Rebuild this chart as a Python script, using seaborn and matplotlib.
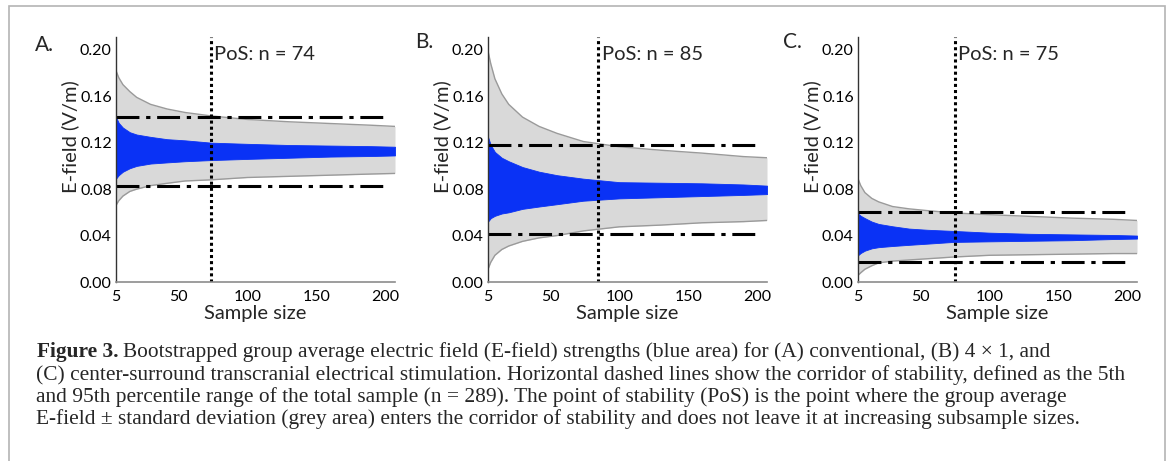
import numpy as np
import matplotlib
matplotlib.use("Agg")
import matplotlib.pyplot as plt
from matplotlib.patches import Rectangle
import seaborn as sns

sample_n = [5, 7, 10, 15, 20, 30, 42, 55, 74, 100, 130, 160, 190, 207]

# (A) conventional
a_sd_hi = [0.182, 0.176, 0.170, 0.164, 0.159, 0.153, 0.149, 0.146, 0.143, 0.140, 0.138, 0.1365, 0.135, 0.134]
a_sd_lo = [0.066, 0.070, 0.074, 0.078, 0.080, 0.083, 0.085, 0.087, 0.088, 0.090, 0.091, 0.092, 0.093, 0.0935]
a_bs_hi = [0.142, 0.137, 0.133, 0.129, 0.127, 0.125, 0.123, 0.122, 0.120, 0.119, 0.118, 0.1175, 0.117, 0.1165]
a_bs_lo = [0.089, 0.092, 0.095, 0.098, 0.100, 0.102, 0.103, 0.104, 0.105, 0.106, 0.107, 0.108, 0.1085, 0.109]

# (B) 4 x 1
b_sd_hi = [0.199, 0.188, 0.175, 0.162, 0.153, 0.142, 0.134, 0.128, 0.121, 0.1165, 0.1135, 0.111, 0.108, 0.107]
b_sd_lo = [0.011, 0.017, 0.023, 0.028, 0.031, 0.035, 0.038, 0.040, 0.044, 0.0475, 0.049, 0.051, 0.052, 0.053]
b_bs_hi = [0.125, 0.118, 0.112, 0.107, 0.104, 0.099, 0.095, 0.092, 0.089, 0.086, 0.0855, 0.085, 0.084, 0.083]
b_bs_lo = [0.052, 0.055, 0.057, 0.059, 0.060, 0.063, 0.065, 0.067, 0.070, 0.072, 0.073, 0.074, 0.075, 0.0757]

# (C) center-surround
c_sd_hi = [0.089, 0.083, 0.077, 0.072, 0.069, 0.065, 0.063, 0.0615, 0.0595, 0.058, 0.0565, 0.055, 0.054, 0.053]
c_sd_lo = [0.0057, 0.008, 0.011, 0.014, 0.0165, 0.018, 0.019, 0.020, 0.0215, 0.023, 0.0235, 0.024, 0.0245, 0.0245]
c_bs_hi = [0.059, 0.057, 0.055, 0.052, 0.050, 0.048, 0.046, 0.045, 0.044, 0.0425, 0.0415, 0.041, 0.0405, 0.040]
c_bs_lo = [0.023, 0.025, 0.027, 0.029, 0.030, 0.031, 0.032, 0.033, 0.0345, 0.035, 0.0355, 0.036, 0.037, 0.0374]

# corridor of stability (5th, 95th percentile) and point of stability
corridor_lo = [0.083, 0.041, 0.017]
corridor_hi = [0.1425, 0.118, 0.060]
pos_n = [74, 85, 75]
panel_letters = ["A.", "B.", "C."]

x_ticks = [5, 50, 100, 150, 200]
y_ticks = [0.00, 0.04, 0.08, 0.12, 0.16, 0.20]

caption_lines = [
    "Bootstrapped group average electric field (E-field) strengths (blue area) for (A) conventional, (B) 4 \u00d7 1, and",
    "(C) center-surround transcranial electrical stimulation. Horizontal dashed lines show the corridor of stability, defined as the 5th",
    "and 95th percentile range of the total sample (n = 289). The point of stability (PoS) is the point where the group average",
    "E-field \u00b1 standard deviation (grey area) enters the corridor of stability and does not leave it at increasing subsample sizes.",
]

sns.set_style("white")
plt.rcParams["font.family"] = ["Lato", "DejaVu Sans"]

W, H = 1168, 461
fig = plt.figure(figsize=(W / 100, H / 100), dpi=100)


def fx(px):
    return px / W


def fy(py):
    return 1 - py / H


# light grey page frame
fig.patches.append(Rectangle((fx(9), fy(470)), fx(1165 - 9), (470 - 6) / H,
                             transform=fig.transFigure, fill=False,
                             edgecolor="#b4b4b4", lw=1.2))

panels = [
    (a_sd_hi, a_sd_lo, a_bs_hi, a_bs_lo),
    (b_sd_hi, b_sd_lo, b_bs_hi, b_bs_lo),
    (c_sd_hi, c_sd_lo, c_bs_hi, c_bs_lo),
]
ax_left = [116, 488, 858]
letter_xy = [(35, 45), (415, 42), (783, 42)]
pos_text_x = [214, 602, 958]

for i, (sd_hi, sd_lo, bs_hi, bs_lo) in enumerate(panels):
    ax = fig.add_axes([fx(ax_left[i]), fy(282), fx(279), 245 / H])
    ax.fill_between(sample_n, sd_lo, sd_hi, color="#d9d9d9", lw=0)
    sns.lineplot(x=sample_n, y=sd_hi, ax=ax, color="#9a9a9a", lw=1)
    sns.lineplot(x=sample_n, y=sd_lo, ax=ax, color="#9a9a9a", lw=1)
    ax.fill_between(sample_n, bs_lo, bs_hi, color="#0a32f5", lw=0.6,
                    edgecolor="#0a32f5")
    for yv in (corridor_lo[i], corridor_hi[i]):
        ax.plot([5, 200], [yv, yv], color="black", lw=2.2,
                dashes=(7.5, 2.2, 1.4, 2.2))
    ax.axvline(pos_n[i], color="black", lw=2.2, ls=(0, (1, 1.0)))

    ax.set_xlim(5, 207)
    ax.set_ylim(0, 0.211)
    ax.set_xticks(x_ticks)
    ax.set_yticks(y_ticks)
    ax.set_yticklabels([f"{v:.2f}" for v in y_ticks])
    ax.tick_params(axis="both", direction="in", length=3, width=0.8,
                   labelsize=11.5, colors="#333333", labelcolor="black")
    ax.tick_params(axis="y", pad=3)
    ax.tick_params(axis="x", pad=6)
    for side in ("top", "right"):
        ax.spines[side].set_visible(False)
    ax.spines["left"].set_color("#333333")
    ax.spines["bottom"].set_color("#8c8c8c")
    ax.spines["left"].set_linewidth(1.0)
    ax.spines["bottom"].set_linewidth(1.2)

    ax.set_xlabel("Sample size", fontsize=14.5)
    ax.set_ylabel("E-field (V/m)", fontsize=14.5)
    ax.xaxis.label.set_va("center")
    ax.yaxis.label.set_va("center")
    ax.xaxis.set_label_coords(0.5, (282 - 313) / 245)
    ax.yaxis.set_label_coords(-46 / 279, (282 - 137) / 245)

    fig.text(fx(letter_xy[i][0]), fy(letter_xy[i][1]), panel_letters[i],
             fontsize=15, ha="left", va="center")
    fig.text(fx(pos_text_x[i]), fy(55), f"PoS: n = {pos_n[i]}",
             fontsize=14.5, ha="left", va="center")

# caption: size the serif text so the longest line spans the same width
serif = ["Liberation Serif", "DejaVu Serif"]
probe = fig.text(0, 0, caption_lines[1], family=serif, fontsize=10)
fig.canvas.draw()
cap_size = 10 * (1123 - 36) / probe.get_window_extent().width
probe.remove()

baselines = [357, 380, 402, 424]
head = fig.text(fx(37), fy(baselines[0]), "Figure 3.", family=serif,
                fontweight="bold", fontsize=cap_size, va="baseline")
fig.canvas.draw()
bb = head.get_window_extent()
fig.text((bb.x1 + 4) / W, fy(baselines[0]), caption_lines[0], family=serif,
         fontsize=cap_size, va="baseline")
for line, yb in zip(caption_lines[1:], baselines[1:]):
    fig.text(fx(36), fy(yb), line, family=serif, fontsize=cap_size,
             va="baseline")

fig.savefig("out.png", dpi=100)
